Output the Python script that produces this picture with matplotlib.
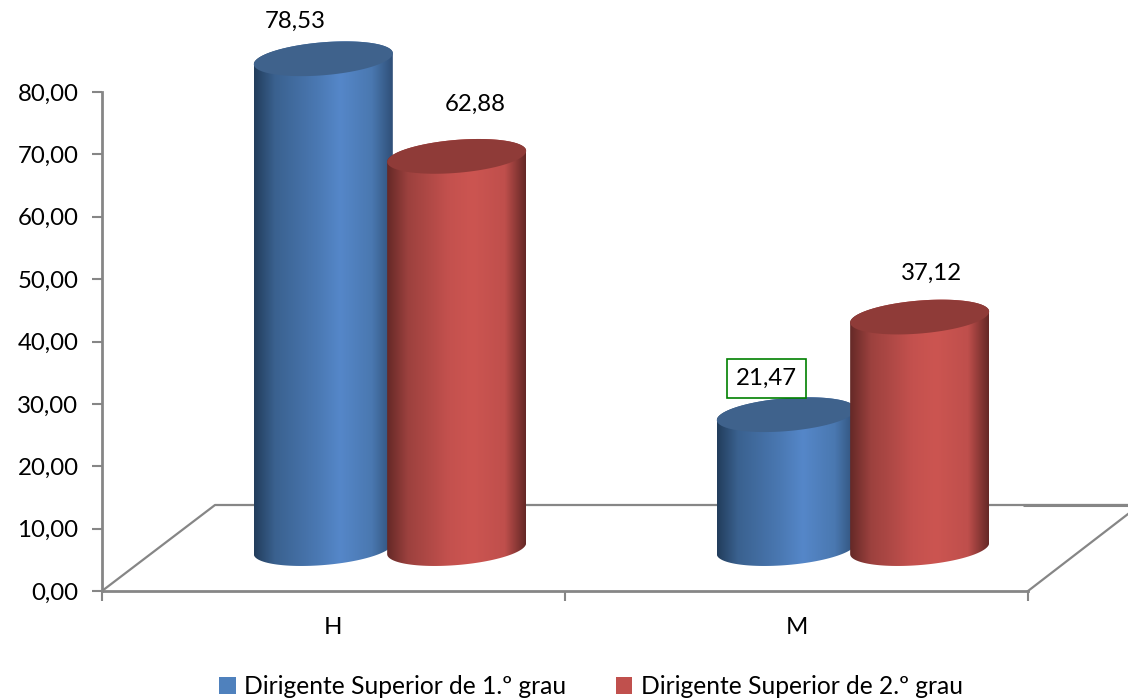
import matplotlib
matplotlib.use("Agg")
import matplotlib.pyplot as plt
import numpy as np
from matplotlib.colors import LinearSegmentedColormap
from matplotlib.patches import Patch, PathPatch
from matplotlib.path import Path

plt.rcParams['font.family'] = ['Lato', 'DejaVu Sans']

categorias = ['H', 'M']
serie1 = [78.53, 21.47]
serie2 = [62.88, 37.12]
nomes = ['Dirigente Superior de 1.º grau', 'Dirigente Superior de 2.º grau']
yticks = [0, 10, 20, 30, 40, 50, 60, 70, 80]

cor_eixo = '#868686'
azul = ['#223d5c', '#3a618f', '#4a78b2', '#5587c9', '#4a78b0', '#2f4f78']
vermelho = ['#652927', '#9c413e', '#c4514e', '#cc5551', '#bf4f4c', '#652826']
paradas = [0, .15, .45, .62, .85, 1]
topo_azul = '#3f628c'
topo_verm = '#8f3b38'

fig = plt.figure(figsize=(11.28, 6.99), dpi=100, facecolor='white')
ax = fig.add_axes([102/1128, 1-591/699, 926/1128, 499/699])
ax.patch.set_alpha(0)

px = 463.0       # pixels per category
py = 499.0/80    # pixels per unit
a = 69.5/px      # cylinder half width
b = 16.5/py      # ellipse half height
s = 5.5/py       # ellipse tilt
base = 6.8


def cilindro(cx, valor, cores, cor_topo, z):
    t = np.linspace(0, 2*np.pi, 121)
    ex = cx + a*np.cos(t)
    ey = b*np.sin(t) + s*np.cos(t)
    # body outline: front of the base, then up and round the top
    baixo = np.linspace(np.pi, 2*np.pi, 60)
    cima = np.linspace(0, np.pi, 60)
    xs = np.r_[cx + a*np.cos(baixo), cx + a*np.cos(cima)]
    ys = np.r_[base + b*np.sin(baixo) + s*np.cos(baixo),
               base + valor + b*np.sin(cima) + s*np.cos(cima)]
    verts = np.c_[xs, ys]
    corpo = PathPatch(Path(np.r_[verts, verts[:1]], closed=True), fc='none', ec='none', transform=ax.transData)
    ax.add_patch(corpo)
    corpo.set_clip_on(False)
    cmap = LinearSegmentedColormap.from_list('g', list(zip(paradas, cores)))
    im = ax.imshow(np.linspace(0, 1, 256)[None, :], cmap=cmap, aspect='auto', interpolation='bilinear',
                   extent=[cx-a, cx+a, base-b-s, base+valor+b+s], zorder=z)
    im.set_clip_box(fig.bbox)
    im.set_clip_path(corpo)
    ax.fill(ex, base + valor + ey, color=cor_topo, lw=0, zorder=z+0.1, clip_on=False)


# floor of the 3D box
ax.plot([0, 113/px, 1026/px], [0, 86/py, 86/py], color=cor_eixo, lw=1.6, clip_on=False, zorder=1)
ax.plot([921/px, 1026/px], [86/py, 86/py], color=cor_eixo, lw=2.2, clip_on=False, zorder=1, solid_capstyle='butt')
ax.plot([2, 2+100/px], [0, 77/py], color=cor_eixo, lw=1.6, clip_on=False, zorder=1)

for i in range(len(categorias)):
    cilindro(i + 0.478, serie1[i], azul, topo_azul, 3 + i)
    cilindro(i + 0.766, serie2[i], vermelho, topo_verm, 3.5 + i)

ax.set_xlim(0, 2)
ax.set_ylim(0, 80)
for lado in ['top', 'right']:
    ax.spines[lado].set_visible(False)
for lado in ['left', 'bottom']:
    ax.spines[lado].set_color(cor_eixo)
    ax.spines[lado].set_linewidth(2)
    ax.spines[lado].set_zorder(1)

ax.set_yticks(yticks)
ax.set_yticklabels([('%.2f' % v).replace('.', ',') for v in yticks])
ax.set_xticks([0, 1, 2])
ax.set_xticklabels([])
ax.set_xticks([0.5, 1.5], minor=True)
ax.set_xticklabels(categorias, minor=True)
ax.tick_params(axis='x', which='minor', length=0, pad=19, labelsize=17.3)
ax.tick_params(axis='x', which='major', length=7, width=1.5, color=cor_eixo)
ax.tick_params(axis='y', length=7, width=1.5, color=cor_eixo, labelsize=17.3, pad=10)

# value labels, offsets from the top of each cylinder in pixels
desloc1 = [(-28, 37), (-20, 36)]
desloc2 = [(19, 52), (12, 44)]
for i in range(len(categorias)):
    ax.annotate(('%.2f' % serie1[i]).replace('.', ','), (i + 0.478, base + serie1[i]),
                xytext=desloc1[i], textcoords='offset pixels', ha='center', va='center',
                fontsize=17.3, color='black', annotation_clip=False, zorder=10,
                bbox=dict(boxstyle='square,pad=0.38', fc='white', ec='#008000', lw=1.2) if i == 1 else None)
    ax.annotate(('%.2f' % serie2[i]).replace('.', ','), (i + 0.766, base + serie2[i]),
                xytext=desloc2[i], textcoords='offset pixels', ha='center', va='center',
                fontsize=17.3, color='black', annotation_clip=False, zorder=10)

hs = [Patch(fc='#4f81bd', ec='none'), Patch(fc='#c0504d', ec='none')]
fig.legend(hs, nomes, loc='center', bbox_to_anchor=(591/1128, 1-687/699), ncol=2, frameon=False,
           fontsize=17.7, handlelength=0.68, handleheight=0.68, handletextpad=0.35, columnspacing=2.0, borderpad=0)

fig.savefig('out.png', dpi=100)
